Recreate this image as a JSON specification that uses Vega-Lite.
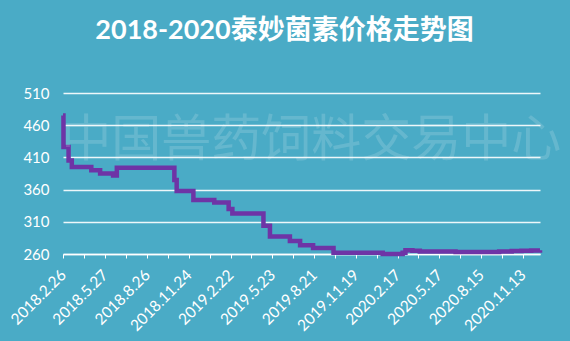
{
  "$schema": "https://vega.github.io/schema/vega-lite/v6.json",
  "width": 477,
  "height": 161,
  "autosize": {"type": "none"},
  "padding": {"left": 63, "top": 93, "right": 30, "bottom": 87},
  "background": "#4AABC6",
  "config": {"view": {"stroke": null}, "font": "Lato"},
  "title": {
    "text": "2018-2020泰妙菌素价格走势图",
    "font": "Lato, Noto Sans CJK SC",
    "fontSize": 27,
    "fontWeight": "bold",
    "color": "white",
    "anchor": "middle",
    "frame": "group",
    "dx": -17,
    "offset": 41
  },
  "datasets": {
    "price": [
      {"date": "2018-02-26", "price": 475},
      {"date": "2018-02-27", "price": 426},
      {"date": "2018-03-10", "price": 405},
      {"date": "2018-03-17", "price": 395},
      {"date": "2018-04-28", "price": 390},
      {"date": "2018-05-17", "price": 385},
      {"date": "2018-06-14", "price": 382},
      {"date": "2018-06-22", "price": 394},
      {"date": "2018-10-24", "price": 375},
      {"date": "2018-10-29", "price": 358},
      {"date": "2018-12-04", "price": 344},
      {"date": "2019-01-18", "price": 340},
      {"date": "2019-02-18", "price": 330},
      {"date": "2019-02-26", "price": 323},
      {"date": "2019-05-04", "price": 304},
      {"date": "2019-05-18", "price": 287},
      {"date": "2019-06-30", "price": 280},
      {"date": "2019-07-22", "price": 273.5},
      {"date": "2019-08-19", "price": 269.5},
      {"date": "2019-10-02", "price": 262},
      {"date": "2020-01-16", "price": 260},
      {"date": "2020-02-28", "price": 262},
      {"date": "2020-03-05", "price": 266},
      {"date": "2020-03-20", "price": 265},
      {"date": "2020-04-05", "price": 264},
      {"date": "2020-06-21", "price": 263},
      {"date": "2020-09-23", "price": 264},
      {"date": "2020-10-20", "price": 264.5},
      {"date": "2020-11-10", "price": 265},
      {"date": "2020-12-01", "price": 265.5},
      {"date": "2020-12-20", "price": 266}
    ],
    "mark": [{"t": "中国兽药饲料交易中心"}]
  },
  "resolve": {"axis": {"x": "independent", "y": "independent"}},
  "layer": [
    {
      "data": {"name": "price"},
      "mark": {"type": "line", "interpolate": "step-after", "color": "#6E34A6", "strokeWidth": 4.5},
      "encoding": {
        "x": {
          "field": "date",
          "type": "temporal",
          "title": null,
          "scale": {
            "type": "utc",
            "domain": [
              {"year": 2018, "month": 2, "date": 26, "utc": true},
              {"year": 2020, "month": 12, "date": 20, "utc": true}
            ]
          },
          "axis": {
            "values": [
              {"year": 2018, "month": 2, "date": 26, "utc": true},
              {"year": 2018, "month": 4, "date": 12, "utc": true},
              {"year": 2018, "month": 5, "date": 27, "utc": true},
              {"year": 2018, "month": 7, "date": 11, "utc": true},
              {"year": 2018, "month": 8, "date": 26, "utc": true},
              {"year": 2018, "month": 10, "date": 10, "utc": true},
              {"year": 2018, "month": 11, "date": 24, "utc": true},
              {"year": 2019, "month": 1, "date": 8, "utc": true},
              {"year": 2019, "month": 2, "date": 22, "utc": true},
              {"year": 2019, "month": 4, "date": 8, "utc": true},
              {"year": 2019, "month": 5, "date": 23, "utc": true},
              {"year": 2019, "month": 7, "date": 7, "utc": true},
              {"year": 2019, "month": 8, "date": 21, "utc": true},
              {"year": 2019, "month": 10, "date": 5, "utc": true},
              {"year": 2019, "month": 11, "date": 19, "utc": true},
              {"year": 2020, "month": 1, "date": 3, "utc": true},
              {"year": 2020, "month": 2, "date": 17, "utc": true},
              {"year": 2020, "month": 4, "date": 2, "utc": true},
              {"year": 2020, "month": 5, "date": 17, "utc": true},
              {"year": 2020, "month": 7, "date": 1, "utc": true},
              {"year": 2020, "month": 8, "date": 15, "utc": true},
              {"year": 2020, "month": 9, "date": 29, "utc": true},
              {"year": 2020, "month": 11, "date": 13, "utc": true}
            ],
            "labelExpr": "indexof(['2018.2.26','2018.5.27','2018.8.26','2018.11.24','2019.2.22','2019.5.23','2019.8.21','2019.11.19','2020.2.17','2020.5.17','2020.8.15','2020.11.13'], utcFormat(datum.value, '%Y.%-m.%-d')) >= 0 ? utcFormat(datum.value, '%Y.%-m.%-d') : ''",
            "labelAngle": -45,
            "labelAlign": "right",
            "labelBaseline": "middle",
            "labelPadding": 14,
            "labelFontSize": 15.5,
            "labelColor": "white",
            "labelOverlap": false,
            "labelBound": false,
            "labelFlush": false,
            "grid": false,
            "domainColor": "white",
            "domainWidth": 1.5,
            "tickColor": "white",
            "tickSize": 4,
            "tickWidth": 1
          }
        },
        "y": {
          "field": "price",
          "type": "quantitative",
          "title": null,
          "scale": {"domain": [260, 510], "nice": false, "zero": false},
          "axis": {
            "values": [260, 310, 360, 410, 460, 510],
            "domain": false,
            "ticks": false,
            "labelColor": "white",
            "labelFontSize": 15,
            "labelPadding": 14,
            "labelOverlap": false,
            "grid": true,
            "gridColor": "white",
            "gridWidth": 1.5,
            "gridOpacity": 0.9
          }
        }
      }
    },
    {
      "data": {"name": "mark"},
      "mark": {"type": "text", "font": "Noto Sans CJK SC", "fontSize": 50, "color": "white", "opacity": 0.15},
      "encoding": {
        "text": {"field": "t"},
        "x": {"datum": {"year": 2019, "month": 8, "date": 15, "utc": true}, "type": "temporal", "axis": null},
        "y": {"datum": 436, "type": "quantitative", "axis": null}
      }
    }
  ]
}
